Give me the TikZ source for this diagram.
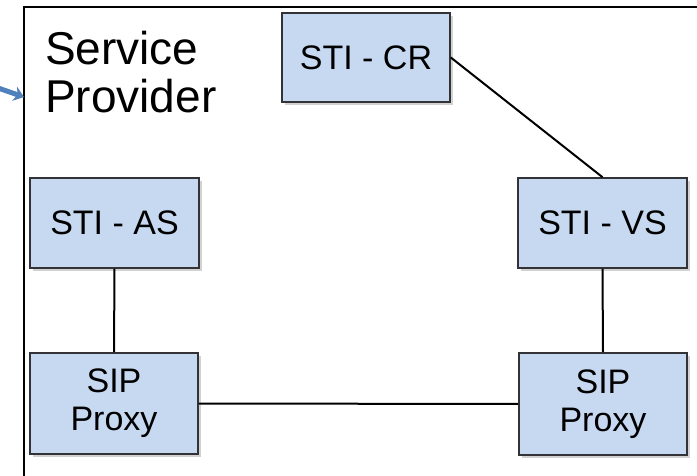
\documentclass[tikz,border=0pt]{standalone}
\usepackage{fontspec}
\setmainfont{Liberation Sans}
\usetikzlibrary{shadows,arrows.meta}
\definecolor{boxfill}{RGB}{198,217,241}
\definecolor{boxline}{RGB}{50,50,55}
\definecolor{arrowblue}{RGB}{79,129,189}
\tikzset{
  box/.style={draw=boxline, line width=1.6pt, fill=boxfill, inner sep=0pt,
    align=center, font=\fontsize{34}{38}\selectfont,
    drop shadow={shadow xshift=3pt, shadow yshift=-3pt, opacity=0.35, fill=gray}},
  link/.style={line width=2pt, black},
}
\begin{document}
\begin{tikzpicture}[x=1pt,y=-1pt]
\useasboundingbox (0,0) rectangle (697,476);
\fill[white] (0,0) rectangle (697,476);
% frame
\draw[line width=2pt, black] (700,7) -- (24,7) -- (24,480);
% title
\node[anchor=north west, inner sep=0pt, align=left, font=\fontsize{46}{48}\selectfont] (title) at (45,31) {Service\\Provider};
% arrow
\coordinate (a0) at (-2,88);
\coordinate (a1) at (24,97);
\draw[arrowblue, line width=5pt, -{Stealth[length=10pt,width=15pt]}] (a0) -- (a1);
% boxes
\node[box, minimum width=168pt, minimum height=89pt] (cr) at (366,57.5) {STI - CR};
\node[box, minimum width=169pt, minimum height=90pt] (vs) at (602.5,223) {STI - VS};
\node[box, minimum width=169pt, minimum height=90pt] (as) at (114.5,223) {STI - AS};
\node[box, minimum width=168pt, minimum height=101pt] (sl) at (114,403.5) {SIP\\Proxy};
\node[box, minimum width=168pt, minimum height=102pt] (sr) at (603,404) {SIP\\Proxy};
% links
\draw[link] (cr.east) -- (vs.north);
\draw[link] (as.south) -- (sl.north);
\draw[link] (vs.south) -- (sr.north);
\draw[link] (sl.east) -- (sr.west);
\end{tikzpicture}
\end{document}
